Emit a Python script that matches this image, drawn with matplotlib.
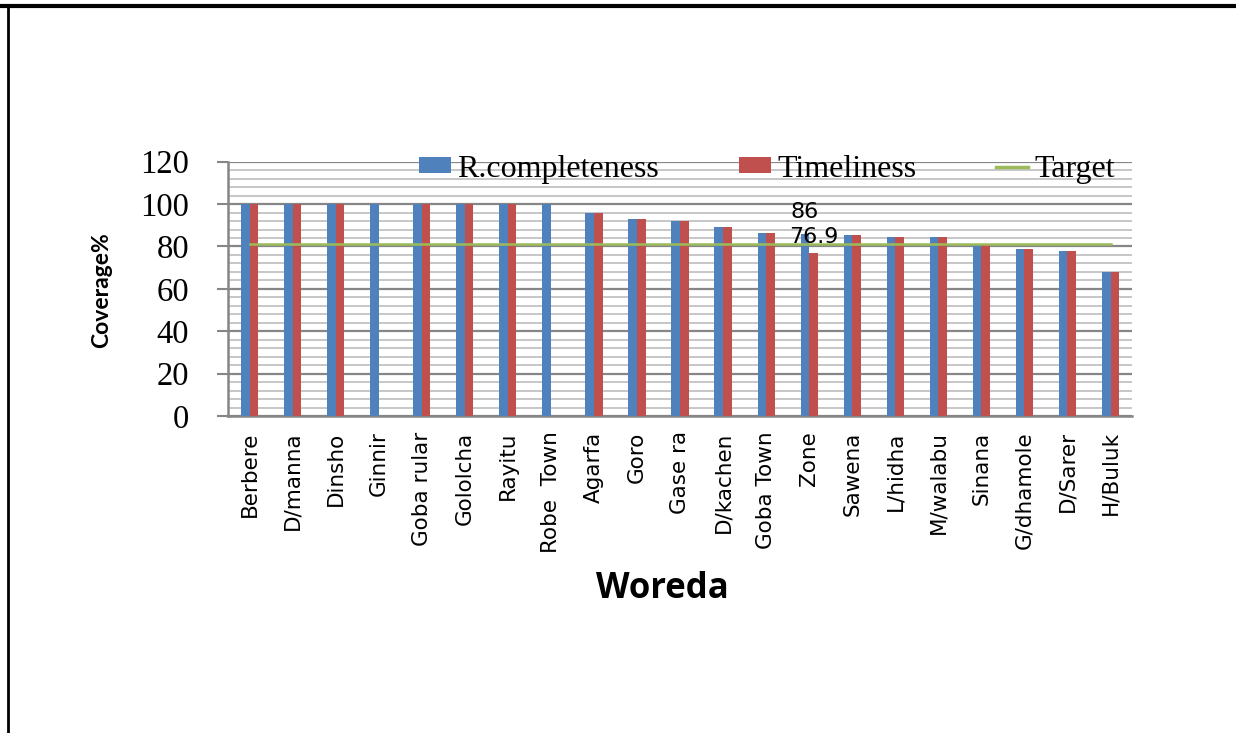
import matplotlib
matplotlib.use("Agg")
import matplotlib.pyplot as plt
import numpy as np
from matplotlib.lines import Line2D
from matplotlib.patches import Patch
from matplotlib.ticker import MultipleLocator

# reporting performance per woreda
woredas = [
    "Berbere", "D/manna", "Dinsho", "Ginnir", "Goba rular", "Gololcha",
    "Rayitu", "Robe  Town", "Agarfa", "Goro", "Gase ra", "D/kachen",
    "Goba Town", "Zone", "Sawena", "L/hidha", "M/walabu", "Sinana",
    "G/dhamole", "D/Sarer", "H/Buluk",
]
completeness = [100, 100, 100, 100, 100, 100, 100, 100, 96, 93, 92, 89,
                86.5, 86, 85.3, 84.5, 84.5, 80.5, 79, 77.7, 68]
timeliness = [100, 100, 100, 0, 100, 100, 100, 0, 96, 93, 92, 89,
              86.5, 76.9, 85.3, 84.5, 84.5, 80.5, 79, 77.7, 68]
target = [81] * len(woredas)

# only the Zone bars carry value labels
labelled = "Zone"

BLUE = "#4F81BD"
RED = "#C0504D"
GREEN = "#9BBB59"
GRID_MAJOR = "#868686"
GRID_MINOR = "#C3C3C3"

fig = plt.figure(figsize=(12.36, 7.33), dpi=100)
ax = fig.add_axes([0.1845, 0.4325, 0.7314, 0.3469])

x = np.arange(len(woredas))
w = 0.2
ax.bar(x - w / 2, completeness, w, color=BLUE, zorder=3)
ax.bar(x + w / 2, timeliness, w, color=RED, zorder=3)
ax.plot(x, target, color=GREEN, lw=1.8, zorder=4)

# the two labels sit close together, so lift the upper one a touch
i = woredas.index(labelled)
for xpos, val, lift in [(i - w / 2, completeness[i], 11), (i + w / 2, timeliness[i], 7)]:
    ax.annotate(f"{val:g}", (xpos, val), xytext=(0, lift), textcoords="offset points",
                ha="center", va="baseline", fontsize=16, family="DejaVu Sans",
                zorder=5)

ax.set_xlim(-0.5, len(woredas) - 0.5)
ax.set_ylim(0, 120)
ax.yaxis.set_major_locator(MultipleLocator(20))
ax.yaxis.set_minor_locator(MultipleLocator(4))
ax.grid(axis="y", which="major", color=GRID_MAJOR, lw=1.6, zorder=1)
ax.grid(axis="y", which="minor", color=GRID_MINOR, lw=1.3, zorder=1)
ax.set_axisbelow(True)

for side in ["top", "right"]:
    ax.spines[side].set_visible(False)
for side in ["left", "bottom"]:
    ax.spines[side].set_color(GRID_MAJOR)
    ax.spines[side].set_linewidth(1.8)

ax.tick_params(axis="y", which="major", direction="out", length=8, width=1.5,
               color=GRID_MAJOR, pad=20)
ax.tick_params(axis="y", which="minor", length=0)
ax.tick_params(axis="x", length=0, pad=11)
ax.set_yticks(np.arange(0, 121, 20))
ax.set_yticklabels([str(v) for v in range(0, 121, 20)],
                   family="Liberation Serif", fontsize=23.5)
ax.set_xticks(x)
ax.set_xticklabels(woredas, rotation=90, family="DejaVu Sans", fontsize=15.5)

fig.text(0.0825, 0.604, "Coverage%", rotation=90, ha="center", va="center",
         family="Lato", weight="bold", fontsize=16.5)
fig.text(0.536, 0.196, "Woreda", ha="center", va="center",
         family="Open Sans", weight="bold", fontsize=25)

handles = [
    Patch(facecolor=BLUE, label="R.completeness"),
    Patch(facecolor=RED, label="Timeliness"),
    Line2D([], [], color=GREEN, lw=2.5, label="Target"),
]
fig.legend(handles=handles, loc="center left", bbox_to_anchor=(0.339, 0.769),
           ncol=3, frameon=False, borderpad=0, borderaxespad=0,
           handlelength=1.0, handleheight=0.4, handletextpad=0.2,
           columnspacing=2.5, prop={"family": "Liberation Serif", "size": 23})

# page border: heavy rule along the top, thinner rule down the left
fig.add_artist(Line2D([0, 1], [0.9918, 0.9918], transform=fig.transFigure,
                      color="black", lw=3))
fig.add_artist(Line2D([0.0066, 0.0066], [0, 0.9918], transform=fig.transFigure,
                      color="black", lw=2))

fig.savefig("out.png", dpi=100)
